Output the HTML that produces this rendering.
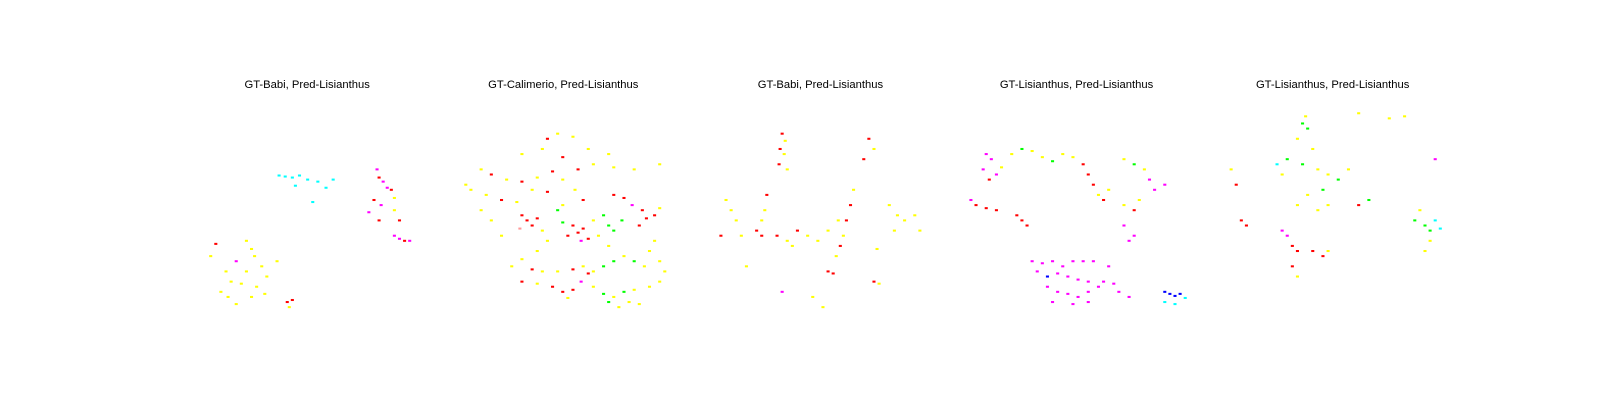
<!DOCTYPE html>
<html><head><meta charset="utf-8"><style>
html,body{margin:0;padding:0;background:#fff;width:1600px;height:400px;overflow:hidden;font-family:"Liberation Sans",sans-serif}
svg{position:absolute;left:0;top:0;display:block}
</style></head><body>
<svg id="chart" width="1600" height="400" viewBox="0 0 1568 392"></svg>
<script>
// Panel titles
const titles = ["GT-Babi, Pred-Lisianthus","GT-Calimerio, Pred-Lisianthus","GT-Babi, Pred-Lisianthus","GT-Lisianthus, Pred-Lisianthus","GT-Lisianthus, Pred-Lisianthus"];
const palette = {Y:"#ffff00",R:"#ff0000",G:"#00ff00",C:"#00ffff",M:"#ff00ff",B:"#0000ff",P:"#ff9999"};
// points: "x,y,color" in panel units (0-210 x, 0-200 y)
const panel1 = "72,66,C 78,67,C 85,68,C 92,66,C 100,70,C 110,72,C 118,78,C 125,70,C 105,92,C 88,76,C 168,60,M 170,68,R 174,72,M 178,78,M 182,80,R 165,90,R 172,95,M 185,88,Y 160,102,M 170,110,R 185,100,Y 190,110,R 185,125,M 190,128,M 195,130,R 200,130,M 10,133,R 40,130,Y 45,138,Y 48,145,Y 30,150,M 20,160,Y 40,160,Y 55,155,Y 60,165,Y 25,170,Y 35,172,Y 50,175,Y 15,180,Y 22,185,Y 45,185,Y 58,182,Y 30,192,Y 80,190,R 85,188,R 82,195,Y 70,150,Y 5,145,Y";
const panel2 = "85,30,R 95,25,Y 110,28,Y 80,40,Y 60,45,Y 100,48,R 125,40,Y 145,45,Y 20,60,Y 30,65,R 45,70,Y 60,72,R 75,68,Y 90,62,R 100,70,Y 115,60,R 130,55,Y 150,58,Y 170,60,Y 195,55,Y 10,80,Y 25,85,Y 40,90,R 55,92,Y 70,80,Y 85,82,R 100,95,Y 112,80,Y 120,90,R 150,85,R 160,88,R 168,95,M 178,100,R 182,108,R 190,105,R 195,98,Y 175,115,R 60,105,R 65,110,R 70,115,R 58,118,P 75,108,R 80,120,Y 110,115,R 115,122,R 120,118,R 125,128,R 118,130,M 105,125,R 130,110,Y 140,105,G 145,115,G 150,120,G 158,110,G 135,125,Y 145,135,Y 95,100,G 100,112,G 85,130,Y 75,140,Y 60,148,Y 40,125,Y 30,110,Y 50,155,Y 70,158,R 80,160,Y 95,160,Y 110,158,R 120,155,Y 130,160,Y 140,155,G 150,150,G 160,145,Y 170,150,G 180,155,Y 195,150,Y 60,170,R 75,172,Y 90,175,R 100,180,R 110,178,R 118,170,M 125,162,R 130,175,Y 140,182,G 150,185,Y 160,180,G 170,178,Y 185,175,Y 195,170,Y 200,160,Y 105,186,Y 145,190,G 155,195,Y 165,190,Y 175,192,Y 20,100,Y 190,130,Y 185,140,Y 5,75,Y";
const panel3 = "65,25,R 68,32,Y 63,40,R 67,45,Y 62,55,R 70,60,Y 150,30,R 155,40,Y 145,50,R 135,80,Y 132,95,R 128,110,R 125,125,Y 122,135,R 118,145,Y 10,90,Y 15,100,Y 20,110,Y 50,85,R 48,100,Y 45,110,Y 40,120,R 45,125,R 60,125,R 70,130,Y 80,120,R 75,135,Y 90,125,Y 100,130,Y 110,120,Y 120,110,Y 5,125,R 25,125,Y 170,95,Y 178,105,Y 185,110,Y 175,120,Y 195,105,Y 158,138,Y 155,170,R 160,172,Y 110,160,R 115,162,R 65,180,M 95,185,Y 105,195,Y 30,155,Y 200,120,Y";
const panel4 = "15,45,M 20,50,M 12,60,M 25,65,M 18,70,R 30,58,Y 40,45,Y 50,40,G 60,42,Y 70,48,Y 80,52,G 90,45,Y 100,48,Y 110,55,R 115,65,R 120,75,R 125,85,Y 130,90,R 135,80,Y 150,50,Y 160,55,G 170,60,Y 175,70,M 180,80,M 190,75,M 165,90,Y 150,95,Y 160,100,R 0,90,M 5,95,R 15,98,R 25,100,R 45,105,R 50,110,R 55,115,R 150,115,M 160,125,M 155,130,M 60,150,M 70,152,M 80,150,M 90,155,M 100,150,M 110,150,M 120,150,M 135,155,M 65,160,M 75,165,B 85,162,M 95,165,M 105,168,M 115,170,M 130,170,M 140,172,M 145,180,M 155,185,M 75,175,M 85,180,M 95,182,M 105,185,M 115,180,M 125,175,M 80,190,M 100,192,M 115,190,M 190,180,B 195,182,B 200,184,B 205,182,B 190,190,C 200,192,C 210,186,C";
const panel5 = "75,15,G 80,20,G 78,8,Y 70,30,Y 85,40,Y 60,50,G 75,55,G 90,60,Y 100,65,Y 110,70,G 95,80,G 80,85,Y 70,95,Y 90,100,Y 100,95,Y 130,95,R 140,90,G 50,55,C 55,120,M 60,125,M 65,135,R 70,140,R 85,140,R 100,140,Y 95,145,R 65,155,R 15,110,R 20,115,R 10,75,R 5,60,Y 190,100,Y 185,110,G 195,115,G 200,120,G 205,110,C 210,118,C 200,130,Y 195,140,Y 205,50,M 160,10,Y 175,8,Y 130,5,Y 70,165,Y 55,65,Y 120,60,Y";
const panels = [panel1,panel2,panel3,panel4,panel5];
const origins = [200,450,700,950,1200];
const titleCenters = [301,552,804,1055,1306];
const plotTop = 105;
const svg = document.getElementById('chart');
const NS = "http://www.w3.org/2000/svg";
function xScale(p,v){return origins[p]+v;}
function yScale(v){return plotTop+v;}
panels.forEach((data,p)=>{
  const g=document.createElementNS(NS,'g');
  
  
  svg.appendChild(g);
  const t=document.createElementNS(NS,'text');
  
  
  t.setAttribute('x',titleCenters[p]);t.setAttribute('y',86);
  t.setAttribute('text-anchor','middle');t.setAttribute('font-size','11');
  t.setAttribute('font-family','Liberation Sans, sans-serif');
  t.textContent=titles[p];g.appendChild(t);
  data.split(' ').forEach(s=>{
    const [x,y,c]=s.split(',');
    const r=document.createElementNS(NS,'rect');
    
    
    r.setAttribute('x',xScale(p,+x));r.setAttribute('y',yScale(+y));
    r.setAttribute('width',3);r.setAttribute('height',2);
    r.setAttribute('fill',palette[c]);
    g.appendChild(r);
  });
});
</script>
</body></html>
